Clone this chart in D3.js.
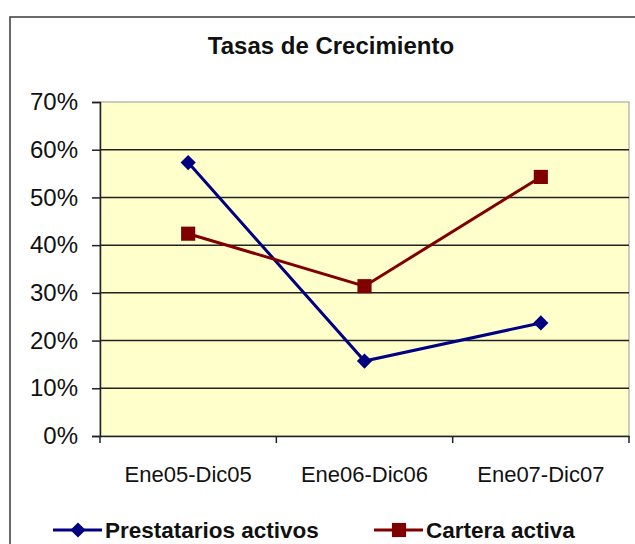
<!DOCTYPE html>
<html>
<head>
<meta charset="utf-8">
<script src="https://cdn.jsdelivr.net/npm/d3@7"></script>
<style>
body { margin: 0; background: #fff; }
svg { display: block; font-family: "Liberation Sans", Arial, sans-serif; }
</style>
</head>
<body>
<div id="chart"></div>
<script>
var categories = ["Ene05-Dic05", "Ene06-Dic06", "Ene07-Dic07"];
var prestatarios = [0.573, 0.157, 0.237];
var cartera = [0.424, 0.314, 0.543];
var y_ticks = [0, 0.1, 0.2, 0.3, 0.4, 0.5, 0.6, 0.7];

var width = 635,
	height = 544;
var margin = {top: 102, right: 6, bottom: 108, left: 100};

var svg = d3.select("#chart")
	.append("svg")
	.attr("width", width)
	.attr("height", height)

// outer chart border (runs off the right/bottom edge)
svg.append("rect")
	.attr("x", 10)
	.attr("y", 17)
	.attr("width", 640)
	.attr("height", 540)
	.attr("fill", "none")
	.attr("stroke", "#3a3a3a")
	.attr("stroke-width", 1.5)

svg.append("text")
	.attr("x", 331)
	.attr("y", 54)
	.attr("text-anchor", "middle")
	.attr("font-size", 24)
	.attr("font-weight", "bold")
	.attr("fill", "#111")
	.text("Tasas de Crecimiento")

var plot_w = width - margin.left - margin.right,
	plot_h = height - margin.top - margin.bottom;

var plot = svg.append("g")
	.attr("transform", "translate(" + margin.left + "," + margin.top + ")");

var x_scale = d3.scaleBand()
	.domain(categories)
	.range([0, plot_w])

var y_scale = d3.scaleLinear()
	.domain([0, 0.7])
	.range([plot_h, 0])

plot.append("rect")
	.attr("width", plot_w)
	.attr("height", plot_h)
	.attr("fill", "#ffffcc")
	.attr("stroke", "#999")
	.attr("stroke-width", 1)

// gridlines
plot.selectAll(".grid")
	.data(y_ticks.filter(function(d){ return d > 0 && d < 0.7 }))
	.enter()
	.append("line")
	.attr("x1", 0)
	.attr("x2", plot_w)
	.attr("y1", function(d){ return y_scale(d) })
	.attr("y2", function(d){ return y_scale(d) })
	.attr("stroke", "#222")
	.attr("stroke-width", 1.5)

var y_axis = d3.axisLeft(y_scale)
	.tickValues(y_ticks)
	.tickSize(8)
	.tickPadding(14)
	.tickFormat(d3.format(".0%"))

var gy = plot.append("g")
	.call(y_axis)
gy.select(".domain").attr("stroke", "#222").attr("stroke-width", 1.5)
gy.selectAll(".tick line").attr("stroke", "#222").attr("stroke-width", 1.5)
gy.selectAll("text")
	.attr("font-size", 24)
	.attr("fill", "#111")
	.attr("font-family", "Liberation Sans, Arial, sans-serif")

var x_axis = d3.axisBottom(x_scale)
	.tickSize(0)
	.tickPadding(30)

var gx = plot.append("g")
	.attr("transform", "translate(0," + plot_h + ")")
	.call(x_axis)
gx.select(".domain").attr("stroke", "#222").attr("stroke-width", 1.5)
gx.selectAll("text")
	.attr("font-size", 22)
	.attr("fill", "#111")
	.attr("font-family", "Liberation Sans, Arial, sans-serif")

// x tick marks between categories
plot.selectAll(".xtick")
	.data([0].concat(categories.map(function(c){ return x_scale(c) + x_scale.bandwidth() })))
	.enter()
	.append("line")
	.attr("x1", function(d){ return d })
	.attr("x2", function(d){ return d })
	.attr("y1", plot_h)
	.attr("y2", plot_h + 7)
	.attr("stroke", "#222")
	.attr("stroke-width", 1.5)

var cx = function(d, i){ return x_scale(categories[i]) + x_scale.bandwidth() / 2 }

var series = [
	{name: "Prestatarios activos", values: prestatarios, color: "#000080", marker: "diamond"},
	{name: "Cartera activa", values: cartera, color: "#800000", marker: "square"}
];

function marker(type){
	if (type === "diamond") return d3.symbol().type(d3.symbolSquare).size(115)()
	return d3.symbol().type(d3.symbolSquare).size(200)()
}
function rot(type){ return type === "diamond" ? " rotate(45)" : "" }

var line = d3.line()
	.x(cx)
	.y(function(d){ return y_scale(d) })

series.forEach(function(s){
	plot.append("path")
		.datum(s.values)
		.attr("d", line)
		.attr("fill", "none")
		.attr("stroke", s.color)
		.attr("stroke-width", 3)

	plot.selectAll(null)
		.data(s.values)
		.enter()
		.append("path")
		.attr("transform", function(d, i){
			return "translate(" + cx(d, i) + "," + y_scale(d) + ")" + rot(s.marker)
		})
		.attr("d", marker(s.marker))
		.attr("fill", s.color)
})

// legend
var legend_x = [53, 374];
var legend = svg.selectAll(".legend")
	.data(series)
	.enter()
	.append("g")
	.attr("transform", function(d, i){ return "translate(" + legend_x[i] + ",530)" })

legend.append("line")
	.attr("x1", 0)
	.attr("x2", 49)
	.attr("stroke", function(d){ return d.color })
	.attr("stroke-width", 3)
legend.append("path")
	.attr("transform", function(d){ return "translate(25,0)" + rot(d.marker) })
	.attr("d", function(d){ return marker(d.marker) })
	.attr("fill", function(d){ return d.color })
legend.append("text")
	.attr("x", 52)
	.attr("y", 8)
	.attr("font-size", 22.5)
	.attr("font-weight", "bold")
	.attr("fill", "#111")
	.text(function(d){ return d.name })
</script>
</body>
</html>
